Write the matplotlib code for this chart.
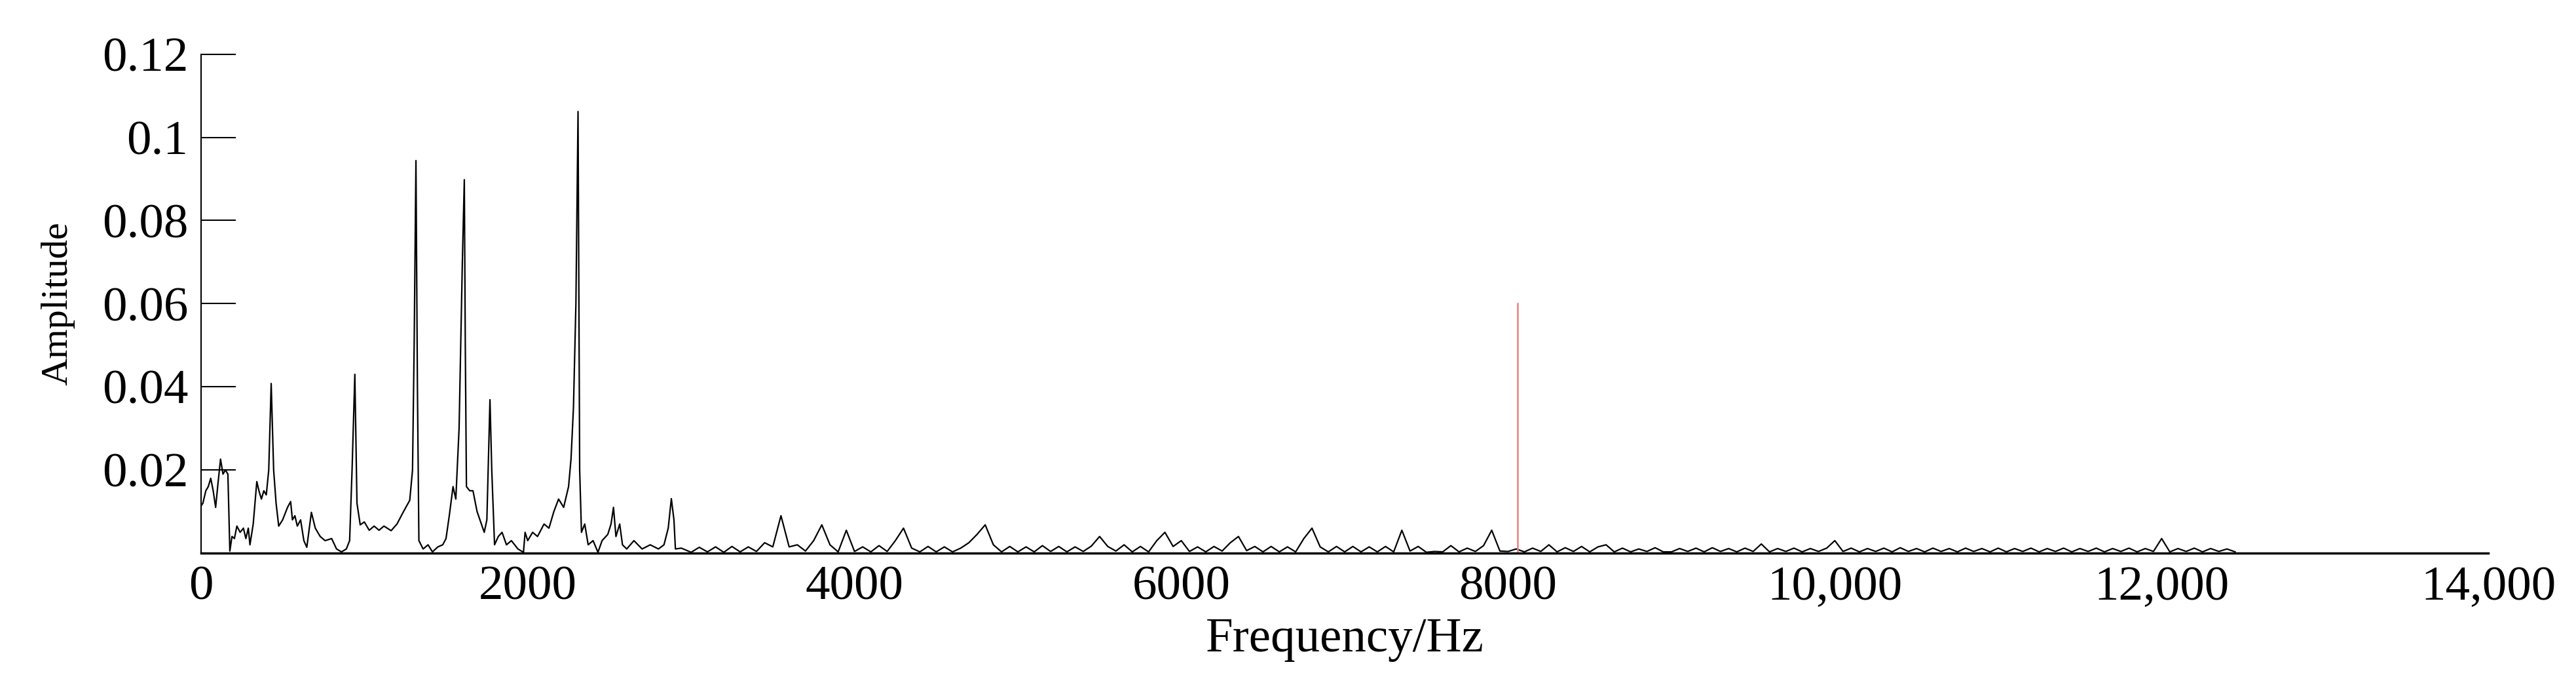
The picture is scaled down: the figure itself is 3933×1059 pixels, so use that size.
import matplotlib
matplotlib.use("Agg")
import matplotlib.pyplot as plt

# Low-frequency part: (frequency Hz, amplitude)
head_freq = [0, 12, 30, 45, 60, 75, 90, 105, 120, 135, 150, 165, 177, 190, 205, 220, 240, 260, 275, 290, 300,
             320, 342, 355, 370, 385, 400, 415, 430, 445, 460, 476, 500, 530, 549, 560, 575, 590, 610, 630, 648,
             676, 700, 730, 760, 800, 830, 860, 890, 910, 925, 942, 955, 975, 1000, 1030, 1060, 1090, 1120,
             1164, 1200, 1240, 1278, 1295, 1305, 1316, 1325, 1334, 1360, 1390, 1417, 1450, 1480, 1500, 1520,
             1543, 1560, 1580, 1600, 1612, 1618, 1625, 1645, 1665, 1690, 1734, 1750, 1769, 1780, 1797, 1820,
             1843, 1870, 1900, 1940, 1974, 1984, 2000, 2030, 2060, 2100, 2130, 2160, 2189, 2220, 2250, 2265,
             2280, 2295, 2308, 2318, 2329, 2349, 2370, 2400, 2430, 2455, 2490, 2510, 2525, 2540, 2563, 2580,
             2606, 2650, 2700, 2750, 2800, 2834, 2860, 2879, 2895, 2904, 2940]
head_amp = [0.0113, 0.0120, 0.0150, 0.0160, 0.0180, 0.0150, 0.0110, 0.0170, 0.0226, 0.0190, 0.0200, 0.0190,
            0.0005, 0.0040, 0.0035, 0.0065, 0.0050, 0.0060, 0.0035, 0.0060, 0.0020,
            0.0070, 0.0172, 0.0150, 0.0130, 0.0150, 0.0140, 0.0200, 0.0408, 0.0200, 0.0120,
            0.0065, 0.0080, 0.0110, 0.0124, 0.0080, 0.0090, 0.0065, 0.0080, 0.0030, 0.0014,
            0.0098, 0.0060, 0.0040, 0.0030, 0.0035, 0.0010, 0.0003, 0.0010, 0.0030, 0.0200,
            0.0430, 0.0120, 0.0068, 0.0075, 0.0055, 0.0065, 0.0055, 0.0065,
            0.0054, 0.0070, 0.0100, 0.0127, 0.0200, 0.0500, 0.0944, 0.0400, 0.0030, 0.0010, 0.0020,
            0.0003, 0.0015, 0.0020, 0.0035, 0.0090,
            0.0160, 0.0130, 0.0300, 0.0700, 0.0898, 0.0500, 0.0160, 0.0150, 0.0150, 0.0100, 0.0050,
            0.0080, 0.0369, 0.0200, 0.0020, 0.0040,
            0.0050, 0.0020, 0.0030, 0.0010, 0.0002, 0.0050, 0.0030, 0.0050, 0.0040, 0.0070,
            0.0060, 0.0100, 0.0130, 0.0110, 0.0160, 0.0226,
            0.0350, 0.0600, 0.1062, 0.0200, 0.0050, 0.0070, 0.0020, 0.0030, 0.0002, 0.0030,
            0.0045, 0.0070, 0.0110, 0.0040, 0.0070, 0.0020,
            0.0010, 0.0030, 0.0010, 0.0020, 0.0010, 0.0020, 0.0060, 0.0131, 0.0080, 0.0010, 0.0012]

# High-frequency tail: amplitudes every 50 Hz from 3000 Hz to 12450 Hz (units of 1e-3), one row per 1000 Hz
tail_start, tail_step = 3000, 50
tail_milli = [
    0.2, 1.4, 0.3, 1.5, 0.2, 1.6, 0.3, 1.5, 0.4, 2.5, 1.5, 9.0, 1.5, 2.0, 0.5, 3.0, 6.8, 2.0, 0.3, 5.5,
    0.4, 1.5, 0.3, 1.8, 0.4, 3.0, 6.0, 1.2, 0.3, 1.6, 0.3, 1.5, 0.3, 1.2, 2.5, 4.5, 6.8, 2.0, 0.3, 1.6,
    0.3, 1.5, 0.3, 1.8, 0.4, 1.6, 0.3, 1.5, 0.4, 1.7, 4.0, 1.6, 0.5, 2.0, 0.3, 1.6, 0.3, 3.0, 5.0, 1.6,
    3.0, 0.4, 1.5, 0.3, 1.6, 0.5, 2.5, 4.0, 0.6, 1.6, 0.3, 1.6, 0.3, 1.5, 0.3, 3.5, 6.0, 1.5, 0.3, 1.6,
    0.3, 1.6, 0.3, 1.5, 0.3, 1.6, 0.3, 5.5, 0.5, 1.6, 0.2, 0.4, 0.3, 1.8, 0.3, 1.2, 0.4, 1.8, 5.5, 0.5,
    0.4, 1.0, 0.3, 1.2, 0.4, 2.0, 0.3, 1.3, 0.4, 1.6, 0.3, 1.5, 2.0, 0.3, 1.2, 0.3, 1.0, 0.4, 1.3, 0.3,
    0.3, 1.1, 0.4, 1.2, 0.3, 1.3, 0.4, 1.1, 0.3, 1.2, 0.4, 2.2, 0.3, 1.1, 0.4, 1.2, 0.3, 1.1, 0.4, 1.2,
    3.0, 0.4, 1.2, 0.3, 1.1, 0.4, 1.2, 0.3, 1.3, 0.4, 1.1, 0.3, 1.2, 0.4, 1.1, 0.3, 1.2, 0.4, 1.1, 0.3,
    1.2, 0.3, 1.1, 0.4, 1.2, 0.3, 1.1, 0.4, 1.2, 0.3, 1.1, 0.4, 1.2, 0.3, 1.1, 0.4, 1.2, 0.3, 1.1, 0.4,
    3.5, 0.3, 1.1, 0.4, 1.2, 0.3, 1.1, 0.4, 1.0, 0.3,
]

marker_freq = 8060
marker_amp = 0.06

xticks = [0, 2000, 4000, 6000, 8000, 10000, 12000, 14000]
xtick_labels = ["0", "2000", "4000", "6000", "8000", "10,000", "12,000", "14,000"]
yticks = [0.02, 0.04, 0.06, 0.08, 0.1, 0.12]
ytick_labels = ["0.02", "0.04", "0.06", "0.08", "0.1", "0.12"]

tail_freq = [tail_start + i * tail_step for i in range(len(tail_milli))]
freq = head_freq + tail_freq
amp = head_amp + [v / 1000 for v in tail_milli]

plt.rcParams['font.family'] = ['Liberation Serif', 'DejaVu Serif']
fig = plt.figure(figsize=(39.33, 10.59), dpi=100)
ax = fig.add_axes([0.078, 0.203, 0.888, 0.719])
ax.plot(freq, amp, color='black', lw=1.6)
ax.plot([marker_freq, marker_freq], [0, marker_amp], color='#e88080', lw=1.8)
ax.set_xlim(0, 14000)
ax.set_ylim(0, 0.12)
ax.set_xticks(xticks)
ax.set_xticklabels(xtick_labels)
ax.set_yticks(yticks)
ax.set_yticklabels(ytick_labels)
for s in ['top', 'right']:
    ax.spines[s].set_visible(False)
ax.spines['left'].set_linewidth(1.5)
ax.spines['bottom'].set_linewidth(2.5)
ax.tick_params(axis='y', direction='in', length=38, width=1.5, labelsize=54, pad=14)
ax.tick_params(axis='x', length=0, labelsize=54, pad=14)
ax.set_xlabel("Frequency/Hz", fontsize=54, labelpad=8)
ax.set_ylabel("Amplitude", fontsize=42, labelpad=30)
fig.savefig("out.png", dpi=100)
